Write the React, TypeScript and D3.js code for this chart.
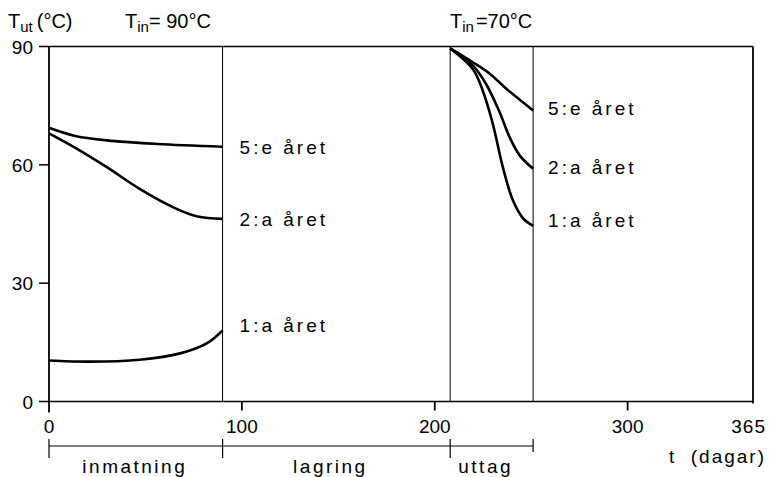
import React from "react";
import * as d3 from "d3";

const W = 769;
const H = 477;

// x ticks (days) and y ticks (°C)
const xTicks = [0, 100, 200, 300, 365];
const yTicks = [0, 30, 60, 90];

// phase boundaries (days)
const phaseBounds = [0, 90, 208, 251];
const phaseNames = ["inmatning", "lagring", "uttag"];

// Charging period (T_in = 90°C), days 0–90
const chargeDays5 = [0, 13, 30, 56, 90];
const chargeVals5 = [69.4, 67.4, 66.2, 65.3, 64.6];
const chargeDays2 = [0, 13, 30, 47, 65, 77, 90];
const chargeVals2 = [68.0, 64.5, 59.4, 53.9, 49.1, 46.9, 46.3];
const chargeDays1 = [0, 21, 47, 68, 82, 90];
const chargeVals1 = [10.4, 10.1, 10.6, 12.2, 14.8, 18.0];

// Discharge period (T_in = 70°C), days 208–251
const dischDays5 = [208, 219.7, 228.5, 237.1, 251];
const dischVals5 = [89.5, 86.0, 83.1, 79.3, 73.8];
const dischDays2 = [208, 219.7, 226.6, 233.6, 238.8, 244, 251];
const dischVals2 = [89.5, 85.2, 80.5, 73.4, 67.0, 62.4, 59.0];
const dischDays1 = [208, 219.7, 224.9, 230.1, 235.3, 240.5, 245.7, 251];
const dischVals1 = [89.5, 84.3, 78.8, 70.4, 59.4, 51.0, 46.5, 44.5];

const leftLabels = ["5:e året", "2:a året", "1:a året"];
const leftLabelVals = [64.6, 46.3, 19.5];
const rightLabels = ["5:e året", "2:a året", "1:a året"];
const rightLabelVals = [74.5, 59.5, 46];

const FONT = "'Liberation Sans', Arial, sans-serif";

export default function App() {
  const x = d3.scaleLinear().domain([0, 365]).range([49, 753]);
  const y = d3.scaleLinear().domain([0, 90]).range([401.5, 46.5]);

  const line = (days: number[], vals: number[]) =>
    d3
      .line<number>()
      .x((_, i) => x(days[i]))
      .y((v) => y(v))
      .curve(d3.curveCatmullRom.alpha(0.5))(vals) || "";

  const curves = [
    line(chargeDays5, chargeVals5),
    line(chargeDays2, chargeVals2),
    line(chargeDays1, chargeVals1),
    line(dischDays5, dischVals5),
    line(dischDays2, dischVals2),
    line(dischDays1, dischVals1),
  ];

  const x0 = x(0);
  const x1 = x(365);
  const yTop = y(90);
  const yBot = y(0);
  const phaseY = 446;

  return (
    <svg width={W} height={H} style={{ position: "absolute", left: 0, top: 0 }} fontFamily={FONT}>
      <rect x={0} y={0} width={W} height={H} fill="#fff" />
      {/* frame */}
      <line x1={x0} x2={x1} y1={yTop} y2={yTop} stroke="#000" strokeWidth={1.6} />
      <line x1={x0} x2={x1} y1={yBot} y2={yBot} stroke="#000" strokeWidth={1.6} />
      <line x1={x0} x2={x0} y1={yTop} y2={yBot + 11} stroke="#000" strokeWidth={1.8} />
      <line x1={x1} x2={x1} y1={yTop} y2={yBot + 2} stroke="#000" strokeWidth={1.8} />
      {/* phase boundaries */}
      {phaseBounds.slice(1).map((d) => (
        <line key={d} x1={x(d)} x2={x(d)} y1={yTop} y2={yBot} stroke="#000" strokeWidth={1} />
      ))}
      {/* y ticks */}
      {yTicks.map((v) => (
        <g key={v}>
          <line x1={x0 - 10} x2={x0} y1={y(v)} y2={y(v)} stroke="#000" strokeWidth={1.5} />
          <text x={x0 - 16} y={y(v) + 7} textAnchor="end" fontSize={19}>
            {v}
          </text>
        </g>
      ))}
      {/* x ticks */}
      {xTicks.map((d) => (
        <g key={d}>
          {d !== 0 && d !== 365 && (
            <line x1={x(d)} x2={x(d)} y1={yBot} y2={yBot + 9} stroke="#000" strokeWidth={1.8} />
          )}
          <text
            x={d === 365 ? x(d) + 13 : x(d)}
            y={433}
            textAnchor={d === 365 ? "end" : "middle"}
            fontSize={19}
            letterSpacing={d === 365 ? 1 : 0}
          >
            {d}
          </text>
        </g>
      ))}
      <text x={x1 + 13} y={463} textAnchor="end" fontSize={19} letterSpacing={2} xmlSpace="preserve">
        t  (dagar)
      </text>
      {/* phase bar */}
      <line x1={x(phaseBounds[0])} x2={x(phaseBounds[3])} y1={phaseY} y2={phaseY} stroke="#000" strokeWidth={1} />
      {phaseBounds.map((d, i) => (
        <line
          key={d}
          x1={x(d)}
          x2={x(d)}
          y1={phaseY - 7}
          y2={phaseY + (i === 3 ? 6 : 12)}
          stroke="#000"
          strokeWidth={1.2}
        />
      ))}
      {phaseNames.map((n, i) => (
        <text
          key={n}
          x={(x(phaseBounds[i]) + x(phaseBounds[i + 1])) / 2 - (i === 0 ? 1 : 6)}
          y={473}
          textAnchor="middle"
          fontSize={19}
          letterSpacing={2.5}
        >
          {n}
        </text>
      ))}
      {/* curves */}
      {curves.map((p, i) => (
        <path key={i} d={p} fill="none" stroke="#000" strokeWidth={2.6} strokeLinejoin="round" />
      ))}
      {/* curve labels */}
      {leftLabels.map((t, i) => (
        <text key={"l" + i} x={x(90) + 17} y={y(leftLabelVals[i]) + 7} fontSize={19} letterSpacing={3}>
          {t}
        </text>
      ))}
      {rightLabels.map((t, i) => (
        <text key={"r" + i} x={x(251) + 15} y={y(rightLabelVals[i]) + 7} fontSize={19} letterSpacing={3}>
          {t}
        </text>
      ))}
      {/* titles */}
      <text x={8} y={28} fontSize={20}>
        <tspan>T</tspan>
        <tspan fontSize={15} dy={4}>ut</tspan>
        <tspan dy={-4} dx={4}>(°C)</tspan>
      </text>
      <text x={125} y={28} fontSize={20}>
        <tspan>T</tspan>
        <tspan fontSize={15} dy={4}>in</tspan>
        <tspan dy={-4}>= 90°C</tspan>
      </text>
      <text x={450} y={28} fontSize={20}>
        <tspan>T</tspan>
        <tspan fontSize={15} dy={4}>in</tspan>
        <tspan dy={-4} dx={2}>=70°C</tspan>
      </text>
    </svg>
  );
}
